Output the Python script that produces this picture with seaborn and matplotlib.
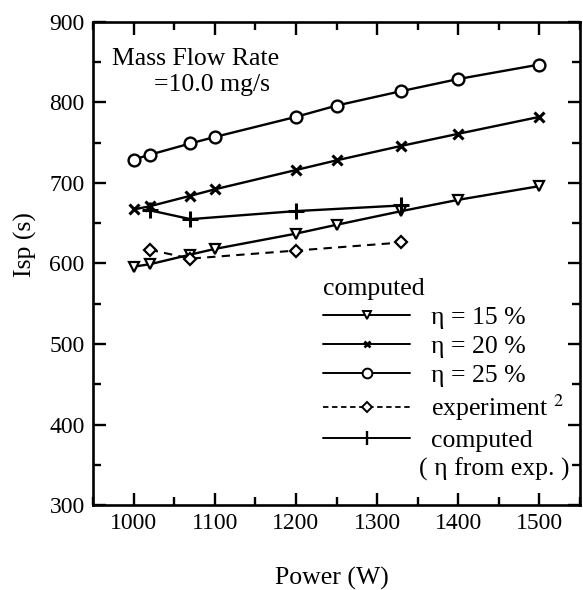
import matplotlib
matplotlib.use('Agg')
import matplotlib.pyplot as plt
from matplotlib.lines import Line2D
from matplotlib.ticker import MultipleLocator
import seaborn as sns
import pandas as pd

# values
power = [1000, 1020, 1070, 1100, 1200, 1250, 1330, 1400, 1500]
isp_eta15 = [596, 599, 611, 618, 637, 648, 665, 679, 696]
isp_eta20 = [667, 671, 684, 692, 716, 728, 746, 761, 782]
isp_eta25 = [729, 735, 749, 757, 782, 796, 814, 829, 847]

exp_power = [1020, 1070, 1200, 1330]
isp_experiment = [617, 606, 616, 626]
isp_computed_exp = [666, 655, 665, 672]

x_ticks = [1000, 1100, 1200, 1300, 1400, 1500]
y_ticks = [300, 400, 500, 600, 700, 800, 900]

sns.set_theme(style='ticks')
plt.rcParams['font.family'] = ['Liberation Serif', 'DejaVu Serif']
plt.rcParams['mathtext.fontset'] = 'stix'
fs = 17
fs_txt = 18.5

fig = plt.figure(figsize=(5.83, 5.90), dpi=100)
ax = fig.add_axes([0.1595, 0.144, 0.8355, 0.819])

lw = 1.7
sns.lineplot(x=power, y=isp_eta15, ax=ax, color='black', lw=lw, marker='v',
             markersize=7, markerfacecolor='white', markeredgecolor='black', markeredgewidth=1.6)
sns.lineplot(x=power, y=isp_eta20, ax=ax, color='black', lw=lw, marker='x',
             markersize=7, markeredgecolor='black', markeredgewidth=2.2)
sns.lineplot(x=power, y=isp_eta25, ax=ax, color='black', lw=lw, marker='o',
             markersize=8.5, markerfacecolor='white', markeredgecolor='black', markeredgewidth=1.7)
sns.lineplot(x=exp_power, y=isp_experiment, ax=ax, color='black', lw=1.5, marker='D',
             markersize=6, markerfacecolor='white', markeredgecolor='black', markeredgewidth=1.6,
             linestyle=(0, (4, 3)))
sns.lineplot(x=exp_power, y=isp_computed_exp, ax=ax, color='black', lw=lw, marker='+',
             markersize=11, markeredgecolor='black', markeredgewidth=2.2)

ax.set_xlim(950, 1550)
ax.set_ylim(300, 900)
ax.set_xticks(x_ticks)
ax.set_yticks(y_ticks)
ax.xaxis.set_minor_locator(MultipleLocator(50))
ax.yaxis.set_minor_locator(MultipleLocator(50))
ax.tick_params(which='both', direction='in', top=True, right=True, width=1.7,
               color='black', labelsize=fs, labelcolor='black')
ax.tick_params(which='major', length=9, pad=6)
ax.tick_params(which='minor', length=5.5)
for s in ax.spines.values():
    s.set_linewidth(1.9)
    s.set_color('black')

ax.set_xlabel('Power (W)', fontsize=fs_txt, color='black')
ax.set_ylabel('Isp (s)', fontsize=fs_txt, color='black')
ax.xaxis.set_label_coords(0.49, -0.128)
ax.yaxis.set_label_coords(-0.115, 0.54)

ax.text(0.04, 0.923, 'Mass Flow Rate', transform=ax.transAxes, fontsize=fs_txt,
        va='center', ha='left', color='black')
ax.text(0.125, 0.87, '=10.0 mg/s', transform=ax.transAxes, fontsize=fs_txt,
        va='center', ha='left', color='black')

handles = [
    Line2D([0], [0], color='black', lw=1.4, marker='v', markersize=6,
           markerfacecolor='white', markeredgecolor='black', markeredgewidth=1.4),
    Line2D([0], [0], color='black', lw=1.4, marker='x', markersize=5,
           markeredgecolor='black', markeredgewidth=1.9),
    Line2D([0], [0], color='black', lw=1.4, marker='o', markersize=7,
           markerfacecolor='white', markeredgecolor='black', markeredgewidth=1.4),
    Line2D([0], [0], color='black', lw=1.3, marker='D', markersize=5, linestyle=(0, (3, 2)),
           markerfacecolor='white', markeredgecolor='black', markeredgewidth=1.4),
    Line2D([0], [0], color='black', lw=1.4, marker='|', markersize=10,
           markeredgecolor='black', markeredgewidth=1.7),
    Line2D([0], [0], color='none', lw=0),
]
labels = ['η = 15 %', 'η = 20 %', 'η = 25 %', 'experiment $^{2}$', 'computed', '( η from exp. )']
leg = ax.legend(handles, labels, title='computed', loc='upper left',
                bbox_to_anchor=(0.472, 0.47), frameon=False, fontsize=fs_txt,
                title_fontsize=fs_txt, alignment='left', handlelength=3.4,
                handletextpad=0.8, labelspacing=0.23, borderpad=0, borderaxespad=0)
for t in leg.get_texts():
    t.set_color('black')
leg.get_title().set_color('black')
leg.get_texts()[-1].set_x(-12)

fig.savefig('out.png', dpi=100, facecolor='white')
